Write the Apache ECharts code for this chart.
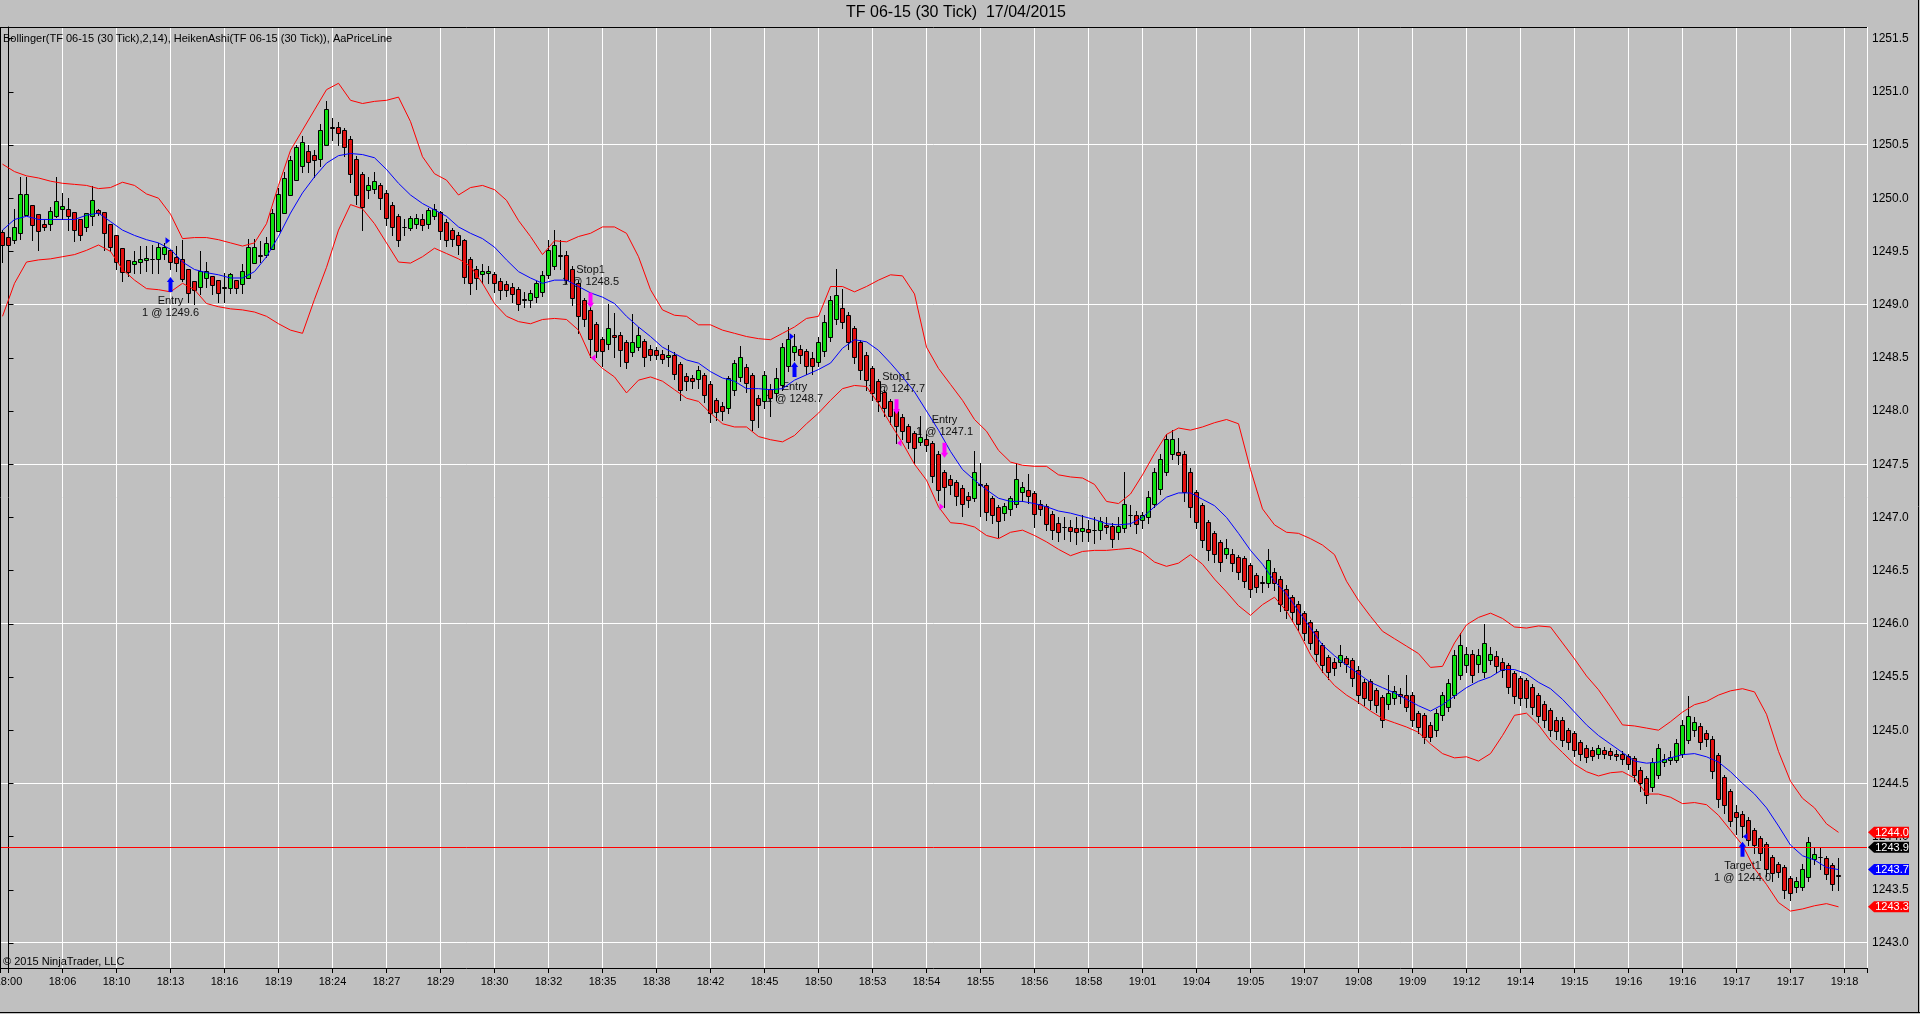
<!DOCTYPE html>
<html>
<head>
<meta charset="utf-8">
<script src="https://cdn.jsdelivr.net/npm/echarts@6/dist/echarts.min.js"></script>
<style>
html,body{margin:0;padding:0;background:#c0c0c0;overflow:hidden;}
#chart{width:1920px;height:1014px;}
</style>
</head>
<body>
<div id="chart"></div>
<script>
// ---------------- data ----------------
const chartTitle = 'TF 06-15 (30 Tick)  17/04/2015';
const indicatorText = 'Bollinger(TF 06-15 (30 Tick),2,14), HeikenAshi(TF 06-15 (30 Tick)), AaPriceLine';
const copyrightText = '\u00a9 2015 NinjaTrader, LLC';

// time labels sit on bars 1, 10, 19, ... (every 9 bars)
const timeLabels = ['18:00','18:06','18:10','18:13','18:16','18:19','18:24','18:27','18:29','18:30','18:32','18:35','18:38','18:42','18:45','18:50','18:53','18:54','18:55','18:56','18:58','19:01','19:04','19:05','19:07','19:08','19:09','19:12','19:14','19:15','19:16','19:16','19:17','19:17','19:18'];

const haOpen = [
1249.68,1249.64,1249.61,1249.67,1249.84,1249.94,1249.85,1249.76,1249.76,1249.83,
1249.90,1249.90,1249.87,1249.80,1249.73,1249.83,1249.89,1249.87,1249.76,1249.65,
1249.53,1249.42,1249.38,1249.40,1249.42,1249.43,1249.43,1249.48,1249.51,1249.45,
1249.43,1249.33,1249.22,1249.17,1249.25,1249.27,1249.23,1249.17,1249.16,1249.23,
1249.19,1249.25,1249.39,1249.47,1249.47,1249.52,1249.69,1249.86,1250.03,1250.17,
1250.30,1250.44,1250.41,1250.37,1250.50,1250.67,1250.67,1250.64,1250.56,1250.37,
1250.23,1250.08,1250.09,1250.12,1250.05,1249.94,1249.83,1249.73,1249.72,1249.76,
1249.80,1249.76,1249.83,1249.87,1249.78,1249.70,1249.65,1249.61,1249.43,1249.33,
1249.29,1249.30,1249.29,1249.22,1249.19,1249.17,1249.15,1249.05,1249.04,1249.07,
1249.12,1249.28,1249.36,1249.47,1249.47,1249.33,1249.20,1249.04,1248.95,1248.82,
1248.68,1248.63,1248.71,1248.71,1248.65,1248.55,1248.60,1248.66,1248.58,1248.57,
1248.54,1248.51,1248.53,1248.44,1248.33,1248.31,1248.30,1248.34,1248.25,1248.10,
1248.05,1248.03,1248.20,1248.32,1248.41,1248.34,1248.12,1248.09,1248.21,1248.17,
1248.24,1248.42,1248.55,1248.58,1248.56,1248.50,1248.46,1248.56,1248.70,1248.86,
1248.97,1248.90,1248.78,1248.65,1248.53,1248.40,1248.28,1248.18,1248.09,1248.02,
1247.94,1247.86,1247.79,1247.71,1247.74,1247.70,1247.60,1247.43,1247.36,1247.33,
1247.28,1247.20,1247.18,1247.31,1247.30,1247.18,1247.10,1247.04,1247.08,1247.13,
1247.24,1247.26,1247.23,1247.13,1247.11,1247.03,1246.95,1246.91,1246.91,1246.90,
1246.87,1246.89,1246.88,1246.88,1246.93,1246.92,1246.86,1246.90,1247.02,1247.02,
1246.98,1247.00,1247.13,1247.27,1247.43,1247.60,1247.61,1247.60,1247.43,1247.24,
1247.12,1246.96,1246.85,1246.77,1246.66,1246.66,1246.63,1246.62,1246.55,1246.46,
1246.39,1246.38,1246.49,1246.42,1246.33,1246.25,1246.19,1246.10,1246.02,1245.93,
1245.80,1245.69,1245.64,1245.64,1245.68,1245.66,1245.57,1245.45,1245.46,1245.38,
1245.31,1245.25,1245.30,1245.34,1245.33,1245.33,1245.16,1245.14,1245.05,1245.00,
1245.14,1245.22,1245.33,1245.52,1245.61,1245.72,1245.62,1245.55,1245.66,1245.70,
1245.64,1245.61,1245.54,1245.49,1245.47,1245.41,1245.33,1245.25,1245.19,1245.10,
1245.10,1245.00,1244.97,1244.89,1244.83,1244.81,1244.78,1244.81,1244.80,1244.78,
1244.78,1244.76,1244.74,1244.63,1244.55,1244.47,1244.58,1244.70,1244.72,1244.72,
1244.78,1244.91,1245.00,1245.04,1244.97,1244.92,1244.77,1244.56,1244.43,1244.23,
1244.21,1244.16,1244.06,1243.99,1243.93,1243.81,1243.74,1243.71,1243.61,1243.53,
1243.53,1243.62,1243.79,1243.81,1243.80,1243.73,1243.64];

const haClose = [
1249.56,1249.56,1249.73,1250.04,1250.04,1249.75,1249.69,1249.73,1249.88,1249.97,
1249.93,1249.83,1249.70,1249.65,1249.86,1249.98,1249.86,1249.67,1249.54,1249.40,
1249.31,1249.31,1249.41,1249.43,1249.44,1249.43,1249.54,1249.54,1249.40,1249.39,
1249.24,1249.11,1249.14,1249.32,1249.32,1249.18,1249.11,1249.16,1249.29,1249.16,
1249.32,1249.54,1249.54,1249.46,1249.58,1249.86,1250.04,1250.19,1250.36,1250.48,
1250.53,1250.34,1250.36,1250.64,1250.84,1250.66,1250.61,1250.48,1250.23,1250.03,
1249.92,1250.12,1250.16,1250.00,1249.81,1249.73,1249.61,1249.73,1249.81,1249.81,
1249.75,1249.89,1249.90,1249.69,1249.61,1249.62,1249.56,1249.26,1249.20,1249.25,
1249.32,1249.32,1249.20,1249.14,1249.14,1249.10,1249.01,1249.04,1249.11,1249.20,
1249.28,1249.51,1249.56,1249.46,1249.23,1249.06,1248.89,1248.86,1248.68,1248.56,
1248.56,1248.78,1248.70,1248.57,1248.46,1248.65,1248.71,1248.51,1248.53,1248.53,
1248.49,1248.53,1248.35,1248.20,1248.28,1248.28,1248.39,1248.15,1247.98,1247.99,
1248.00,1248.31,1248.45,1248.51,1248.26,1247.92,1248.06,1248.34,1248.12,1248.31,
1248.60,1248.68,1248.61,1248.53,1248.42,1248.42,1248.65,1248.84,1249.04,1249.09,
1248.84,1248.65,1248.51,1248.39,1248.29,1248.17,1248.09,1248.03,1247.95,1247.86,
1247.81,1247.71,1247.65,1247.76,1247.68,1247.39,1247.26,1247.29,1247.30,1247.20,
1247.13,1247.16,1247.43,1247.30,1247.05,1247.02,1246.97,1247.11,1247.18,1247.36,
1247.29,1247.20,1247.03,1247.08,1246.94,1246.88,1246.86,1246.91,1246.87,1246.86,
1246.90,1246.86,1246.88,1246.97,1246.91,1246.80,1246.92,1247.13,1247.02,1246.94,
1247.02,1247.19,1247.43,1247.55,1247.74,1247.74,1247.59,1247.24,1247.10,1246.96,
1246.79,1246.69,1246.66,1246.58,1246.71,1246.57,1246.49,1246.40,1246.33,1246.35,
1246.38,1246.60,1246.38,1246.19,1246.13,1246.11,1246.00,1245.91,1245.82,1245.72,
1245.61,1245.55,1245.58,1245.71,1245.62,1245.49,1245.33,1245.30,1245.28,1245.24,
1245.10,1245.35,1245.37,1245.32,1245.22,1245.10,1245.03,1244.94,1244.94,1245.16,
1245.33,1245.44,1245.71,1245.80,1245.72,1245.52,1245.71,1245.82,1245.72,1245.60,
1245.57,1245.41,1245.32,1245.30,1245.30,1245.22,1245.13,1245.10,1245.00,1244.99,
1244.91,1244.89,1244.81,1244.78,1244.75,1244.76,1244.83,1244.78,1244.77,1244.76,
1244.73,1244.68,1244.58,1244.50,1244.39,1244.70,1244.83,1244.73,1244.75,1244.88,
1245.05,1245.13,1245.08,1244.89,1244.92,1244.62,1244.35,1244.30,1244.15,1244.18,
1244.10,1243.97,1243.92,1243.85,1243.70,1243.66,1243.67,1243.50,1243.47,1243.58,
1243.70,1243.95,1243.84,1243.81,1243.65,1243.55,1243.63];

const haHigh = [
1249.70,1249.67,1249.90,1250.20,1250.20,1249.94,1249.85,1249.80,1249.92,1250.20,
1250.05,1250.00,1249.87,1249.80,1249.86,1250.11,1249.90,1249.87,1249.76,1249.65,
1249.53,1249.42,1249.50,1249.55,1249.55,1249.56,1249.58,1249.58,1249.51,1249.55,
1249.61,1249.33,1249.22,1249.50,1249.40,1249.27,1249.23,1249.30,1249.30,1249.23,
1249.38,1249.62,1249.62,1249.60,1249.64,1249.90,1250.10,1250.25,1250.40,1250.50,
1250.58,1250.50,1250.45,1250.70,1250.91,1250.75,1250.72,1250.66,1250.58,1250.40,
1250.25,1250.20,1250.25,1250.14,1250.08,1249.96,1249.85,1249.80,1249.83,1249.85,
1249.85,1249.91,1249.95,1249.88,1249.80,1249.72,1249.68,1249.62,1249.45,1249.36,
1249.38,1249.36,1249.31,1249.25,1249.22,1249.20,1249.17,1249.12,1249.14,1249.22,
1249.32,1249.61,1249.70,1249.61,1249.50,1249.36,1249.22,1249.06,1248.98,1248.84,
1248.70,1249.01,1248.92,1248.74,1248.67,1248.91,1248.79,1248.68,1248.62,1248.60,
1248.57,1248.62,1248.55,1248.46,1248.36,1248.34,1248.42,1248.36,1248.28,1248.12,
1248.08,1248.33,1248.48,1248.61,1248.44,1248.36,1248.15,1248.38,1248.25,1248.40,
1248.64,1248.79,1248.72,1248.62,1248.58,1248.55,1248.70,1248.90,1249.08,1249.33,
1249.15,1248.93,1248.80,1248.67,1248.55,1248.42,1248.30,1248.20,1248.11,1248.04,
1247.97,1247.88,1247.81,1247.95,1247.78,1247.72,1247.62,1247.45,1247.40,1247.35,
1247.30,1247.24,1247.62,1247.51,1247.32,1247.20,1247.12,1247.14,1247.20,1247.51,
1247.33,1247.41,1247.25,1247.16,1247.13,1247.06,1247.00,1247.00,1246.98,1247.00,
1247.02,1246.98,1247.00,1247.00,1247.00,1246.95,1247.00,1247.43,1247.12,1247.06,
1247.05,1247.25,1247.46,1247.60,1247.78,1247.82,1247.75,1247.62,1247.46,1247.26,
1247.14,1246.98,1246.87,1246.79,1246.80,1246.70,1246.65,1246.64,1246.57,1246.48,
1246.45,1246.70,1246.52,1246.45,1246.36,1246.27,1246.21,1246.12,1246.04,1245.95,
1245.82,1245.71,1245.68,1245.80,1245.70,1245.68,1245.60,1245.48,1245.48,1245.40,
1245.33,1245.52,1245.42,1245.40,1245.52,1245.36,1245.18,1245.16,1245.08,1245.20,
1245.36,1245.48,1245.75,1245.91,1245.78,1245.75,1245.76,1246.00,1245.78,1245.74,
1245.68,1245.63,1245.56,1245.51,1245.49,1245.43,1245.35,1245.27,1245.21,1245.12,
1245.12,1245.02,1244.99,1244.91,1244.86,1244.84,1244.86,1244.84,1244.83,1244.81,
1244.80,1244.78,1244.76,1244.65,1244.57,1244.74,1244.87,1244.78,1244.80,1244.92,
1245.10,1245.32,1245.12,1245.07,1245.00,1244.95,1244.79,1244.58,1244.45,1244.30,
1244.24,1244.18,1244.08,1244.01,1243.95,1243.83,1243.76,1243.73,1243.63,1243.62,
1243.74,1244.00,1243.90,1243.90,1243.82,1243.75,1243.80];

const haLow = [
1249.40,1249.50,1249.58,1249.62,1249.84,1249.61,1249.51,1249.70,1249.70,1249.82,
1249.80,1249.70,1249.60,1249.61,1249.69,1249.75,1249.84,1249.51,1249.50,1249.33,
1249.22,1249.27,1249.30,1249.30,1249.32,1249.30,1249.30,1249.43,1249.33,1249.32,
1249.22,1249.02,1249.01,1249.10,1249.17,1249.10,1249.02,1249.02,1249.11,1249.11,
1249.11,1249.25,1249.39,1249.40,1249.45,1249.52,1249.69,1249.86,1250.03,1250.17,
1250.25,1250.25,1250.20,1250.30,1250.50,1250.55,1250.50,1250.40,1250.15,1249.95,
1249.70,1250.00,1250.05,1249.90,1249.75,1249.65,1249.55,1249.65,1249.70,1249.72,
1249.70,1249.72,1249.80,1249.62,1249.55,1249.55,1249.48,1249.20,1249.10,1249.15,
1249.20,1249.20,1249.12,1249.05,1249.08,1249.02,1248.95,1248.98,1248.98,1249.02,
1249.08,1249.25,1249.33,1249.33,1249.20,1249.00,1248.73,1248.80,1248.51,1248.51,
1248.42,1248.58,1248.51,1248.42,1248.40,1248.52,1248.57,1248.42,1248.48,1248.49,
1248.45,1248.42,1248.30,1248.10,1248.20,1248.22,1248.22,1248.08,1247.90,1247.92,
1247.92,1247.98,1248.15,1248.28,1248.18,1247.82,1247.85,1248.03,1247.95,1248.10,
1248.20,1248.38,1248.48,1248.45,1248.35,1248.35,1248.42,1248.52,1248.66,1248.82,
1248.78,1248.58,1248.45,1248.30,1248.20,1248.10,1248.00,1247.95,1247.88,1247.70,
1247.74,1247.65,1247.51,1247.68,1247.62,1247.33,1247.16,1247.10,1247.22,1247.12,
1247.01,1247.10,1247.15,1247.01,1246.98,1246.95,1246.82,1246.98,1247.02,1247.10,
1247.15,1247.14,1246.91,1247.02,1246.88,1246.80,1246.78,1246.80,1246.78,1246.75,
1246.78,1246.78,1246.76,1246.80,1246.85,1246.72,1246.80,1246.86,1246.92,1246.85,
1246.90,1246.95,1247.10,1247.22,1247.40,1247.55,1247.50,1247.15,1247.00,1246.90,
1246.72,1246.60,1246.58,1246.50,1246.62,1246.50,1246.42,1246.35,1246.25,1246.30,
1246.30,1246.35,1246.32,1246.12,1246.05,1246.03,1245.94,1245.85,1245.76,1245.65,
1245.55,1245.48,1245.52,1245.60,1245.55,1245.42,1245.26,1245.24,1245.20,1245.17,
1245.03,1245.20,1245.25,1245.26,1245.18,1245.04,1244.97,1244.88,1244.90,1244.95,
1245.10,1245.18,1245.30,1245.48,1245.55,1245.45,1245.55,1245.50,1245.62,1245.55,
1245.50,1245.35,1245.26,1245.24,1245.22,1245.15,1245.08,1245.03,1244.95,1244.92,
1244.85,1244.82,1244.76,1244.72,1244.70,1244.72,1244.74,1244.74,1244.73,1244.72,
1244.68,1244.64,1244.52,1244.43,1244.32,1244.43,1244.55,1244.66,1244.68,1244.70,
1244.75,1244.88,1244.95,1244.82,1244.85,1244.55,1244.28,1244.22,1244.10,1244.02,
1244.00,1243.92,1243.85,1243.78,1243.63,1243.58,1243.62,1243.42,1243.40,1243.48,
1243.50,1243.58,1243.74,1243.70,1243.60,1243.50,1243.50];

// Bollinger(14, 2) read every 2 bars (bar 0, 2, 4, ... 306)
const bbUpper = [
1250.32,1250.25,1250.21,1250.19,1250.16,1250.14,1250.13,1250.12,1250.09,1250.10,
1250.15,1250.12,1250.04,1250.00,1249.85,1249.62,1249.63,1249.63,1249.61,1249.58,
1249.55,1249.58,1249.76,1250.12,1250.45,1250.64,1250.83,1251.02,1251.08,1250.92,
1250.89,1250.91,1250.92,1250.95,1250.72,1250.39,1250.23,1250.17,1250.03,1250.10,
1250.12,1250.08,1249.98,1249.79,1249.64,1249.47,1249.60,1249.59,1249.64,1249.67,
1249.73,1249.73,1249.67,1249.45,1249.14,1248.95,1248.90,1248.89,1248.81,1248.81,
1248.76,1248.73,1248.70,1248.68,1248.67,1248.73,1248.79,1248.87,1248.89,1249.17,
1249.17,1249.12,1249.17,1249.23,1249.28,1249.27,1249.10,1248.60,1248.40,1248.25,
1248.10,1247.92,1247.81,1247.63,1247.52,1247.49,1247.48,1247.48,1247.40,1247.38,
1247.37,1247.31,1247.15,1247.13,1247.22,1247.40,1247.60,1247.78,1247.84,1247.82,
1247.85,1247.89,1247.92,1247.88,1247.45,1247.08,1246.93,1246.86,1246.85,1246.80,
1246.74,1246.65,1246.40,1246.22,1246.07,1245.93,1245.86,1245.79,1245.72,1245.59,
1245.60,1245.82,1245.99,1246.06,1246.10,1246.05,1245.97,1245.96,1245.98,1245.97,
1245.82,1245.67,1245.51,1245.38,1245.22,1245.05,1245.04,1245.02,1245.00,1245.08,
1245.17,1245.24,1245.27,1245.33,1245.37,1245.39,1245.36,1245.15,1244.80,1244.52,
1244.36,1244.27,1244.12,1244.04];

const bbMiddle = [
1249.70,1249.80,1249.83,1249.80,1249.80,1249.80,1249.80,1249.84,1249.86,1249.78,
1249.70,1249.65,1249.61,1249.58,1249.52,1249.40,1249.33,1249.30,1249.28,1249.25,
1249.25,1249.31,1249.45,1249.64,1249.86,1250.05,1250.20,1250.33,1250.40,1250.42,
1250.41,1250.38,1250.27,1250.14,1250.03,1249.95,1249.89,1249.83,1249.73,1249.67,
1249.62,1249.54,1249.42,1249.31,1249.25,1249.20,1249.23,1249.23,1249.17,1249.11,
1249.07,1249.01,1248.89,1248.79,1248.70,1248.60,1248.54,1248.48,1248.45,1248.37,
1248.31,1248.28,1248.21,1248.21,1248.20,1248.21,1248.29,1248.34,1248.39,1248.45,
1248.59,1248.67,1248.65,1248.57,1248.45,1248.32,1248.18,1248.00,1247.82,1247.62,
1247.45,1247.35,1247.26,1247.18,1247.15,1247.15,1247.13,1247.10,1247.06,1247.04,
1247.01,1246.98,1246.94,1246.93,1246.94,1247.00,1247.10,1247.19,1247.23,1247.23,
1247.17,1247.11,1247.00,1246.85,1246.69,1246.56,1246.40,1246.28,1246.12,1245.96,
1245.80,1245.70,1245.61,1245.53,1245.45,1245.40,1245.35,1245.29,1245.23,1245.18,
1245.24,1245.32,1245.40,1245.46,1245.50,1245.57,1245.57,1245.53,1245.45,1245.39,
1245.29,1245.17,1245.05,1244.95,1244.87,1244.79,1244.71,1244.69,1244.70,1244.74,
1244.77,1244.78,1244.75,1244.70,1244.61,1244.50,1244.40,1244.27,1244.10,1243.92,
1243.82,1243.78,1243.71,1243.69];

const bbLower = [
1248.89,1249.20,1249.40,1249.42,1249.43,1249.45,1249.47,1249.51,1249.56,1249.50,
1249.33,1249.23,1249.15,1249.14,1249.12,1249.20,1249.14,1249.01,1248.98,1248.96,
1248.95,1248.93,1248.89,1248.82,1248.76,1248.73,1249.05,1249.35,1249.70,1249.94,
1249.90,1249.76,1249.58,1249.40,1249.39,1249.45,1249.53,1249.48,1249.43,1249.36,
1249.20,1249.01,1248.89,1248.84,1248.82,1248.86,1248.87,1248.86,1248.76,1248.51,
1248.40,1248.32,1248.17,1248.29,1248.32,1248.28,1248.20,1248.12,1248.09,1247.98,
1247.88,1247.85,1247.85,1247.76,1247.73,1247.71,1247.77,1247.88,1247.98,1248.10,
1248.21,1248.24,1248.23,1248.07,1247.88,1247.70,1247.50,1247.35,1247.10,1246.95,
1246.94,1246.91,1246.83,1246.80,1246.86,1246.88,1246.83,1246.77,1246.70,1246.64,
1246.68,1246.69,1246.69,1246.70,1246.71,1246.67,1246.58,1246.54,1246.57,1246.65,
1246.56,1246.42,1246.30,1246.17,1246.08,1246.18,1246.25,1246.12,1245.93,1245.71,
1245.55,1245.42,1245.33,1245.26,1245.18,1245.11,1245.07,1245.03,1244.98,1244.87,
1244.78,1244.74,1244.75,1244.71,1244.78,1244.95,1245.14,1245.16,1245.05,1244.90,
1244.79,1244.68,1244.61,1244.57,1244.60,1244.61,1244.55,1244.40,1244.40,1244.37,
1244.31,1244.32,1244.30,1244.20,1244.06,1243.92,1243.70,1243.55,1243.38,1243.30,
1243.32,1243.35,1243.37,1243.34];
const bandStep = 2;

const lastPrice = 1243.9;
const gridPrices = [1243.0, 1244.5, 1246.0, 1247.5, 1249.0, 1250.5];

// trade executions
const execBars   = [28, 98, 132, 149, 157, 290];
const execPrices = [1249.6, 1248.5, 1248.7, 1247.7, 1247.1, 1244.0];
const execSide   = ['buy', 'sell', 'buy', 'sell', 'sell', 'buy'];
const execKind   = ['entry', 'exit', 'entry', 'exit', 'entry', 'exit'];
const execName   = ['Entry', 'Stop1', 'Entry', 'Stop1', 'Entry', 'Target1'];
const execQty    = [1, 1, 1, 1, 1, 1];
const arrowPrices = [1249.19, 1249.04, 1248.39, 1248.04, 1247.63, 1243.88];

// ---------------- chart ----------------
const FONT = '"Liberation Sans", Arial, sans-serif';
const GREEN = '#10e010';
const RED = '#e01010';
const BLUE_ORDER = '#0000ff';
const MAGENTA = '#ff00ff';

const xOf = bar => bar - 1;   // ticks (multiples of 9) fall on bars 1, 10, 19 ...

const candleData = haOpen.map((o, i) => [xOf(i), o, haClose[i], haLow[i], haHigh[i]]);
const bandSeriesData = arr => arr.map((v, k) => [xOf(k * bandStep), v]);

function hLine(color) {
  return function (params, api) {
    const y = api.coord([0, api.value(1)])[1];
    const cs = params.coordSys;
    const yy = Math.round(y - 0.5) + 0.5;
    return { type: 'line', silent: true,
      shape: { x1: cs.x, y1: yy, x2: cs.x + cs.width, y2: yy },
      style: { stroke: color, lineWidth: 1 } };
  };
}

function renderCandle(params, api) {
  const x = api.value(0), o = api.value(1), c = api.value(2), l = api.value(3), h = api.value(4);
  const po = api.coord([x, o]), pc = api.coord([x, c]);
  const pl = api.coord([x, l]), ph = api.coord([x, h]);
  const cx = Math.round(po[0] - 0.5) + 0.5;
  const top = Math.min(po[1], pc[1]), bot = Math.max(po[1], pc[1]);
  const yt = Math.round(top) + 0.5;
  const yb = Math.max(Math.round(bot) + 0.5, yt);
  return { type: 'group', children: [
    { type: 'line', shape: { x1: cx, y1: Math.round(ph[1]), x2: cx, y2: Math.round(pl[1]) + 1 }, style: { stroke: '#000', lineWidth: 1 } },
    { type: 'rect', shape: { x: cx - 2, y: yt, width: 4, height: yb - yt }, style: { fill: c >= o ? GREEN : RED, stroke: '#000', lineWidth: 1 } }
  ] };
}

const chart = echarts.init(document.getElementById('chart'), null, { renderer: 'canvas' });

const option = {
  animation: false,
  backgroundColor: '#c0c0c0',
  textStyle: { fontFamily: FONT },
  grid: { left: 0, right: 53, top: 27, bottom: 46, show: false, containLabel: false, outerBoundsMode: 'none' },
  xAxis: {
    type: 'value',
    min: -1.41667, max: 309.75,
    minInterval: 9, maxInterval: 9,
    axisLine: { show: true, onZero: false, lineStyle: { color: '#000', width: 1 } },
    axisTick: { show: true, length: 5, lineStyle: { color: '#000' } },
    axisLabel: {
      color: '#000', fontSize: 11, fontFamily: FONT, margin: 8,
      formatter: v => { const k = Math.round(v / 9); return (Math.abs(v - 9 * k) < 1e-6 && timeLabels[k]) ? timeLabels[k] : ''; }
    },
    splitLine: { show: true, lineStyle: { color: '#ffffff', width: 1 } }
  },
  yAxis: {
    type: 'value', position: 'right',
    min: 1242.765, max: 1251.609,
    minInterval: 0.5, maxInterval: 0.5,
    axisLine: { show: true, lineStyle: { color: '#000', width: 1 } },
    axisTick: { show: true, length: 5, lineStyle: { color: '#000' } },
    axisLabel: {
      color: '#000', fontSize: 12, fontFamily: FONT, margin: 5,
      formatter: v => (Math.abs(v * 2 - Math.round(v * 2)) < 1e-6 ? v.toFixed(1) : '')
    },
    splitLine: { show: false }
  },
  graphic: [
    { type: 'text', x: 956, y: 13, z: 50, style: { text: chartTitle, fontSize: 16, fontFamily: FONT, fill: '#000', align: 'center', verticalAlign: 'middle' } },
    { type: 'text', x: 3, y: 39, z: 50, style: { text: indicatorText, fontSize: 11, fontFamily: FONT, fill: '#000', verticalAlign: 'middle' } },
    { type: 'text', x: 3, y: 962, z: 50, style: { text: copyrightText, fontSize: 11, fontFamily: FONT, fill: '#000', verticalAlign: 'middle' } },
    { type: 'line', shape: { x1: 0, y1: 27.5, x2: 1867, y2: 27.5 }, style: { stroke: '#000', lineWidth: 1 }, z: 100 },
    { type: 'line', shape: { x1: 0.5, y1: 27, x2: 0.5, y2: 968 }, style: { stroke: '#000', lineWidth: 1 }, z: 100 },
    { type: 'line', shape: { x1: 0, y1: 1012.5, x2: 1920, y2: 1012.5 }, style: { stroke: '#000', lineWidth: 1 }, z: 100 },
    { type: 'line', shape: { x1: 1918.5, y1: 0, x2: 1918.5, y2: 1013 }, style: { stroke: '#000', lineWidth: 1 }, z: 100 }
  ],
  series: [
    { // horizontal grid lines
      type: 'custom', name: 'grid', z: 0, silent: true,
      data: gridPrices.map(p => [0, p]),
      renderItem: hLine('#ffffff')
    },
    { // order text labels (drawn beneath the bars)
      type: 'custom', name: 'orderText', z: 1, silent: true, clip: false,
      data: execBars.map((b, i) => [xOf(b), arrowPrices[i], i]),
      renderItem: function (params, api) {
        const i = api.value(2);
        const p = api.coord([api.value(0), api.value(1)]);
        const up = execSide[i] === 'buy';
        let y1, y2;
        if (up) { y1 = p[1] + 17; y2 = y1 + 12; }
        else { y2 = p[1] - 18; y1 = y2 - 12; }
        const st = (t, y) => ({ type: 'text', style: { text: t, x: p[0], y: y, align: 'center', verticalAlign: 'middle', fontSize: 11, fontFamily: FONT, fill: '#111' } });
        return { type: 'group', children: [
          st(execName[i], y1),
          st(execQty[i] + ' @ ' + execPrices[i].toFixed(1), y2)
        ] };
      }
    },
    {
      type: 'custom', name: 'HeikenAshi', z: 3, silent: true,
      data: candleData,
      encode: { x: 0, y: [1, 2, 3, 4] },
      renderItem: renderCandle
    },
    {
      type: 'line', name: 'Upper', z: 4, silent: true, showSymbol: false, symbol: 'none',
      data: bandSeriesData(bbUpper), lineStyle: { color: '#ff0000', width: 1 }
    },
    {
      type: 'line', name: 'Middle', z: 4, silent: true, showSymbol: false, symbol: 'none',
      data: bandSeriesData(bbMiddle), lineStyle: { color: '#0000ff', width: 1 }
    },
    {
      type: 'line', name: 'Lower', z: 4, silent: true, showSymbol: false, symbol: 'none',
      data: bandSeriesData(bbLower), lineStyle: { color: '#ff0000', width: 1 }
    },
    { // price line
      type: 'custom', name: 'priceLine', z: 5, silent: true,
      data: [[0, lastPrice]],
      renderItem: hLine('#ff0000')
    },
    { // order arrows + execution triangles
      type: 'custom', name: 'orders', z: 6, silent: true, clip: false,
      data: execBars.map((b, i) => [xOf(b), arrowPrices[i], i, execPrices[i]]),
      renderItem: function (params, api) {
        const i = api.value(2);
        const p = api.coord([api.value(0), api.value(1)]);
        const e = api.coord([api.value(0), api.value(3)]);
        const x = Math.round(p[0] - 0.5) + 0.5;
        const y = p[1];
        const up = execSide[i] === 'buy';
        const col = up ? BLUE_ORDER : MAGENTA;
        const hw = 3.7, sw = 2, hh = 5, L = 7.5;
        let pts;
        if (up) {
          pts = [[x, y - L], [x + hw, y - L + hh], [x + sw, y - L + hh], [x + sw, y + L], [x - sw, y + L], [x - sw, y - L + hh], [x - hw, y - L + hh]];
        } else {
          pts = [[x, y + L], [x + hw, y + L - hh], [x + sw, y + L - hh], [x + sw, y - L], [x - sw, y - L], [x - sw, y + L - hh], [x - hw, y + L - hh]];
        }
        let tri;
        const ty = e[1];
        if (execKind[i] === 'entry') tri = [[x - 5, ty - 3.5], [x - 0.5, ty], [x - 5, ty + 3.5]];
        else tri = [[x + 5, ty - 3.5], [x + 0.5, ty], [x + 5, ty + 3.5]];
        return { type: 'group', children: [
          { type: 'polygon', shape: { points: pts }, style: { fill: col } },
          { type: 'polygon', shape: { points: tri }, style: { fill: col } }
        ] };
      }
    },
    { // right-axis value tags
      type: 'custom', name: 'tags', z: 10, silent: true, clip: false,
      data: [
        [0, bbUpper[bbUpper.length - 1], 0],
        [0, lastPrice, 1],
        [0, bbMiddle[bbMiddle.length - 1], 2],
        [0, bbLower[bbLower.length - 1], 3]
      ],
      renderItem: function (params, api) {
        const colors = ['#ff0000', '#000000', '#0000ff', '#ff0000'];
        const v = api.value(1);
        const y = api.coord([0, v])[1];
        const cs = params.coordSys;
        const x0 = cs.x + cs.width;
        const c = colors[api.value(2)];
        return { type: 'group', children: [
          { type: 'polygon', shape: { points: [[x0 + 1, y], [x0 + 7, y - 5.5], [x0 + 42, y - 5.5], [x0 + 42, y + 5.5], [x0 + 7, y + 5.5]] },
            style: { fill: c } },
          { type: 'text', style: { text: v.toFixed(1), x: x0 + 25, y: y + 0.5, align: 'center', verticalAlign: 'middle', fontSize: 11, fontFamily: FONT, fill: '#fff' } }
        ] };
      }
    }
  ]
};
chart.setOption(option);
</script>
</body>
</html>
